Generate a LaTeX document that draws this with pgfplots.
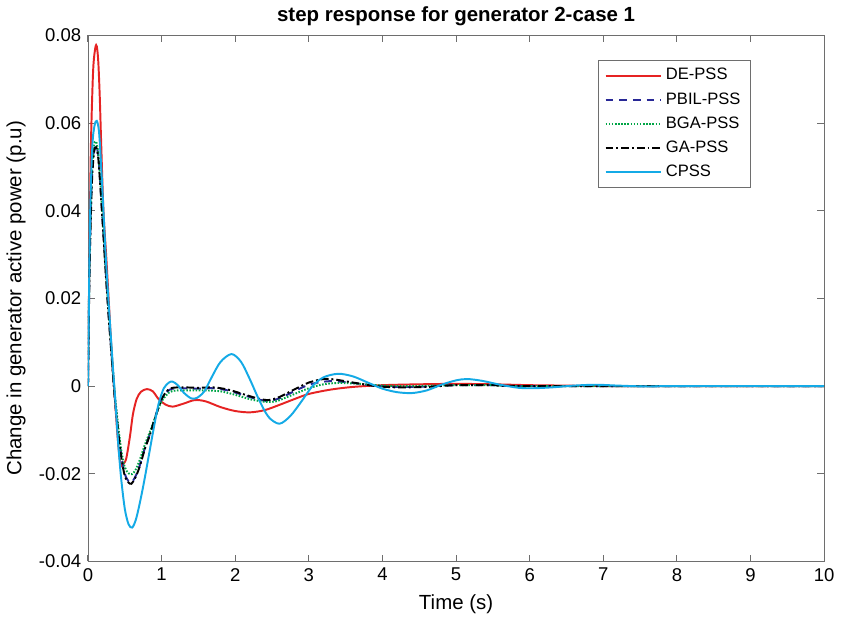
\documentclass[border=0pt]{standalone}
\usepackage{fontspec}
\setmainfont{Liberation Sans}
\usepackage{pgfplots}
\pgfplotsset{compat=1.18}
\definecolor{deRed}{RGB}{230,35,35}
\definecolor{pbilBlue}{RGB}{40,40,150}
\definecolor{bgaGreen}{RGB}{0,165,70}
\definecolor{cpssBlue}{RGB}{20,170,230}
\definecolor{frameGray}{RGB}{110,110,110}
\begin{document}
\begin{tikzpicture}
\begin{axis}[
    scale only axis, width=378pt, height=270pt,
    xmin=0, xmax=10, ymin=-0.04, ymax=0.08,
    xtick={0,1,...,10},
    ytick={-0.04,-0.02,0,0.02,0.04,0.06,0.08},
    yticklabels={-0.04,-0.02,0,0.02,0.04,0.06,0.08},
    scaled y ticks=false,
    tick align=inside, major tick length=3.5pt,
    axis line style={frameGray}, tick style={frameGray, line width=0.5pt},
    /pgf/number format/assume math mode=true,
    ticklabel style={font=\fontsize{9.5}{11}\selectfont},
    label style={font=\fontsize{10.5}{12}\selectfont},
    title style={font=\bfseries\fontsize{10.5}{12}\selectfont, yshift=-4.5pt},
    title={step response for generator 2-case 1},
    xlabel={Time (s)},
    ylabel={Change in generator active power (p.u)},
    legend style={at={(0.9,0.953)}, anchor=north east, draw=frameGray,
        font=\fontsize{8.5}{10}\selectfont, row sep=1pt},
    legend cell align=left,
    legend image code/.code={\draw[#1] (0cm,0cm) -- (1cm,0cm);},
    every axis plot/.append style={smooth, line width=1pt},
]
% DE-PSS
\addplot[deRed] coordinates {
(0,0)(0.02,0.03)(0.04,0.055)(0.07,0.072)(0.1,0.0772)(0.12,0.0775)(0.14,0.074)
(0.16,0.066)(0.18,0.055)(0.21,0.04)(0.25,0.029)(0.29,0.017)(0.31,0.011)
(0.34,0.003)(0.37,-0.004)(0.40,-0.011)(0.43,-0.0165)(0.455,-0.0183)(0.48,-0.0178)
(0.52,-0.0165)(0.57,-0.0115)(0.61,-0.0065)(0.66,-0.003)(0.72,-0.0013)(0.8,-0.0007)
(0.88,-0.0012)(0.96,-0.003)(1.05,-0.0042)(1.15,-0.0047)(1.3,-0.004)(1.45,-0.0032)
(1.6,-0.0035)(1.8,-0.0048)(2.0,-0.0057)(2.2,-0.006)(2.4,-0.0055)(2.6,-0.0043)
(2.8,-0.003)(3.0,-0.0018)(3.3,-0.0008)(3.6,-0.0002)(4.0,0.0002)(4.5,0.0004)
(5.0,0.0005)(5.5,0.0004)(6.0,0.0002)(6.5,0.0001)(7,0)(8,0)(10,0)
};
\addlegendentry{DE-PSS}
% PBIL-PSS
\addplot[pbilBlue, dash pattern=on 4pt off 3pt] coordinates {
(0,0)(0.02,0.026)(0.05,0.046)(0.08,0.0535)(0.11,0.055)(0.14,0.0525)(0.17,0.0455)
(0.2,0.0375)(0.24,0.0265)(0.28,0.0165)(0.32,0.0075)(0.36,-0.0015)(0.4,-0.0085)
(0.45,-0.0155)(0.5,-0.0200)(0.55,-0.0217)(0.59,-0.022)(0.64,-0.0208)(0.7,-0.0183)
(0.77,-0.0143)(0.84,-0.011)(0.92,-0.0067)(1.0,-0.003)(1.08,-0.0012)(1.15,-0.0006)
(1.3,-0.0005)(1.5,-0.0006)(1.7,-0.0005)(1.9,-0.001)(2.1,-0.002)(2.3,-0.003)
(2.45,-0.0034)(2.6,-0.0028)(2.8,-0.0012)(3.0,0.0003)(3.2,0.001)(3.35,0.0011)
(3.6,0.0007)(3.9,0.0001)(4.2,-0.0002)(4.6,-0.0001)(5.0,0.0002)(5.5,0.0002)(6,0)(10,0)
};
\addlegendentry{PBIL-PSS}
% BGA-PSS
\addplot[bgaGreen, dash pattern=on 0.8pt off 0.8pt] coordinates {
(0,0)(0.02,0.027)(0.05,0.047)(0.08,0.0545)(0.11,0.0558)(0.14,0.053)(0.17,0.046)
(0.2,0.038)(0.24,0.027)(0.28,0.017)(0.32,0.008)(0.36,-0.001)(0.4,-0.0075)
(0.45,-0.0145)(0.5,-0.0185)(0.55,-0.0199)(0.6,-0.0201)(0.65,-0.019)(0.7,-0.017)
(0.77,-0.0135)(0.84,-0.0105)(0.92,-0.0068)(1.0,-0.0035)(1.1,-0.0015)(1.2,-0.001)
(1.4,-0.001)(1.6,-0.001)(1.8,-0.0012)(2.0,-0.002)(2.2,-0.003)(2.4,-0.0036)
(2.55,-0.0035)(2.75,-0.0022)(3.0,-0.0005)(3.2,0.0004)(3.4,0.0007)(3.7,0.0005)
(4.0,0.0001)(4.4,0)(5.0,0.0002)(5.5,0.0002)(6,0)(10,0)
};
\addlegendentry{BGA-PSS}
% GA-PSS
\addplot[black, dash pattern=on 4pt off 1.5pt on 1pt off 1.5pt] coordinates {
(0,0)(0.02,0.025)(0.05,0.045)(0.08,0.053)(0.11,0.0545)(0.14,0.052)(0.17,0.045)
(0.2,0.037)(0.24,0.026)(0.28,0.016)(0.32,0.007)(0.36,-0.002)(0.4,-0.009)
(0.45,-0.016)(0.5,-0.0205)(0.55,-0.022)(0.59,-0.0223)(0.64,-0.021)(0.7,-0.0185)
(0.77,-0.0145)(0.84,-0.0112)(0.92,-0.0068)(1.0,-0.003)(1.08,-0.001)(1.15,-0.0004)
(1.3,-0.0003)(1.5,-0.0004)(1.7,-0.0003)(1.9,-0.0008)(2.1,-0.0018)(2.3,-0.0028)
(2.45,-0.0032)(2.6,-0.0025)(2.8,-0.0008)(3.0,0.0008)(3.2,0.0016)(3.35,0.0015)
(3.6,0.0008)(3.9,0)(4.2,-0.0003)(4.6,-0.0002)(5.0,0.0002)(5.5,0.0002)(6,0)(10,0)
};
\addlegendentry{GA-PSS}
% CPSS
\addplot[cpssBlue] coordinates {
(0,0)(0.01,0.015)(0.03,0.04)(0.06,0.055)(0.09,0.0595)(0.12,0.0605)(0.15,0.058)
(0.18,0.05)(0.21,0.04)(0.25,0.027)(0.3,0.014)(0.34,0.004)(0.37,-0.003)(0.41,-0.013)
(0.45,-0.021)(0.5,-0.028)(0.55,-0.0315)(0.6,-0.0323)(0.65,-0.0305)(0.7,-0.027)
(0.76,-0.022)(0.83,-0.0155)(0.9,-0.009)(0.96,-0.004)(1.03,-0.0005)(1.1,0.0008)
(1.15,0.001)(1.22,0.0002)(1.3,-0.0015)(1.4,-0.0028)(1.48,-0.0027)(1.58,-0.0012)
(1.68,0.002)(1.8,0.0055)(1.95,0.0073)(2.08,0.0055)(2.2,0.0015)(2.32,-0.003)
(2.45,-0.007)(2.6,-0.0086)(2.75,-0.0068)(2.9,-0.0035)(3.05,0)(3.2,0.002)
(3.4,0.0028)(3.6,0.0022)(3.8,0.0008)(4.0,-0.0006)(4.2,-0.0014)(4.4,-0.0016)
(4.6,-0.001)(4.8,0.0003)(5.0,0.0013)(5.15,0.0016)(5.35,0.0012)(5.6,0.0003)
(5.85,-0.0004)(6.05,-0.0005)(6.3,-0.0003)(6.6,0.0001)(6.9,0.0003)(7.2,0.0001)
(7.6,-0.0001)(8.0,0)(10,0)
};
\addlegendentry{CPSS}
\end{axis}
\end{tikzpicture}
\end{document}
